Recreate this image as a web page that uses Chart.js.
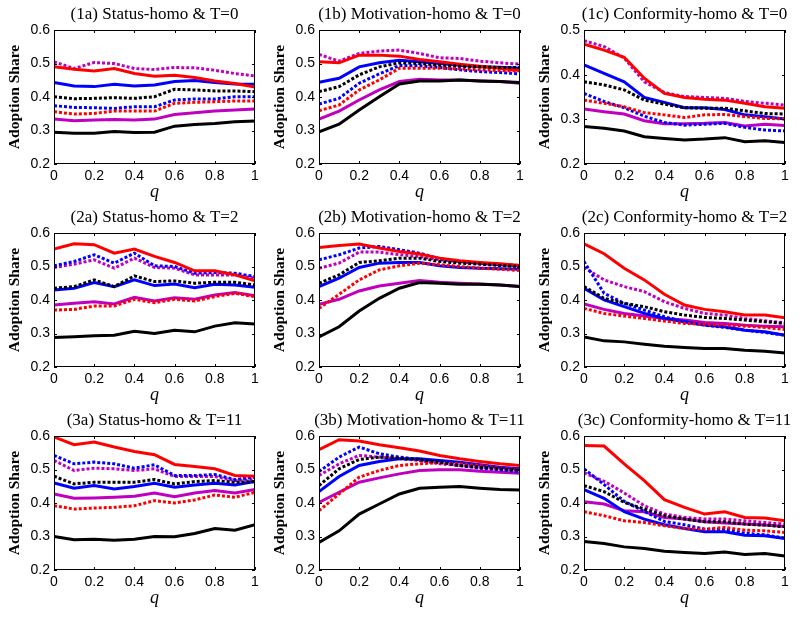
<!DOCTYPE html>
<html>
<head>
<meta charset="utf-8">
<script src="https://cdn.jsdelivr.net/npm/chart.js@4"></script>
<style>
  body { margin: 0; background: #fff; }
  #wrap { position: relative; width: 800px; height: 620px; }
  #wrap canvas { position: absolute; }
</style>
</head>
<body>
<div id="wrap"></div>
<script>
// x axis values (q)
const qValues = [0, 0.1, 0.2, 0.3, 0.4, 0.5, 0.6, 0.7, 0.8, 0.9, 1];

// series order in every panel
const seriesNames = ["black", "black dotted", "red", "red dotted", "blue", "blue dotted", "magenta", "magenta dotted"];
const seriesColors = ["#000000", "#000000", "#ff0000", "#ff0000", "#0000ff", "#0000ff", "#bf00bf", "#bf00bf"];
const seriesDotted = [false, true, false, true, false, true, false, true];

const panelTitles = [
  "(1a) Status-homo & T=0", "(1b) Motivation-homo & T=0", "(1c) Conformity-homo & T=0",
  "(2a) Status-homo & T=2", "(2b) Motivation-homo & T=2", "(2c) Conformity-homo & T=2",
  "(3a) Status-homo & T=11", "(3b) Motivation-homo & T=11", "(3c) Conformity-homo & T=11"
];
const panelYMax = [0.6, 0.6, 0.5, 0.6, 0.6, 0.6, 0.6, 0.6, 0.6];

const panel1a = [
  [0.295, 0.292, 0.292, 0.297, 0.294, 0.295, 0.313, 0.318, 0.321, 0.326, 0.328],
  [0.401, 0.395, 0.396, 0.398, 0.396, 0.401, 0.423, 0.421, 0.418, 0.418, 0.416],
  [0.490, 0.483, 0.478, 0.485, 0.470, 0.462, 0.465, 0.458, 0.448, 0.440, 0.430],
  [0.356, 0.349, 0.351, 0.358, 0.358, 0.358, 0.381, 0.384, 0.386, 0.388, 0.388],
  [0.443, 0.433, 0.431, 0.438, 0.433, 0.436, 0.446, 0.449, 0.443, 0.439, 0.438],
  [0.374, 0.369, 0.368, 0.366, 0.371, 0.371, 0.391, 0.394, 0.394, 0.401, 0.401],
  [0.334, 0.329, 0.331, 0.333, 0.331, 0.334, 0.348, 0.353, 0.358, 0.361, 0.364],
  [0.505, 0.485, 0.503, 0.500, 0.485, 0.482, 0.488, 0.487, 0.480, 0.470, 0.463]
];
const panel1b = [
  [0.296, 0.319, 0.361, 0.401, 0.439, 0.448, 0.448, 0.451, 0.448, 0.446, 0.443],
  [0.416, 0.431, 0.466, 0.490, 0.502, 0.500, 0.495, 0.492, 0.490, 0.488, 0.488],
  [0.505, 0.502, 0.525, 0.525, 0.522, 0.512, 0.505, 0.498, 0.492, 0.486, 0.479],
  [0.359, 0.376, 0.421, 0.451, 0.486, 0.486, 0.486, 0.484, 0.481, 0.479, 0.478],
  [0.444, 0.456, 0.490, 0.502, 0.510, 0.505, 0.500, 0.495, 0.490, 0.489, 0.486],
  [0.379, 0.396, 0.441, 0.469, 0.494, 0.493, 0.488, 0.481, 0.476, 0.473, 0.469],
  [0.334, 0.358, 0.391, 0.421, 0.446, 0.453, 0.451, 0.451, 0.448, 0.446, 0.441],
  [0.527, 0.507, 0.530, 0.537, 0.540, 0.530, 0.517, 0.515, 0.507, 0.502, 0.498]
];
const panel1c = [
  [0.284, 0.280, 0.274, 0.261, 0.257, 0.254, 0.256, 0.259, 0.250, 0.252, 0.248],
  [0.384, 0.377, 0.366, 0.343, 0.334, 0.326, 0.325, 0.325, 0.319, 0.313, 0.312],
  [0.468, 0.455, 0.439, 0.392, 0.358, 0.349, 0.345, 0.343, 0.336, 0.328, 0.325],
  [0.343, 0.336, 0.328, 0.315, 0.310, 0.304, 0.310, 0.311, 0.306, 0.302, 0.301],
  [0.422, 0.403, 0.384, 0.349, 0.338, 0.326, 0.326, 0.322, 0.310, 0.306, 0.301],
  [0.358, 0.340, 0.326, 0.307, 0.293, 0.287, 0.289, 0.291, 0.282, 0.276, 0.274],
  [0.323, 0.317, 0.312, 0.297, 0.290, 0.290, 0.291, 0.293, 0.285, 0.289, 0.286],
  [0.476, 0.463, 0.437, 0.384, 0.360, 0.351, 0.349, 0.347, 0.340, 0.336, 0.332]
];
const panel2a = [
  [0.288, 0.290, 0.293, 0.295, 0.307, 0.300, 0.310, 0.305, 0.322, 0.332, 0.328],
  [0.435, 0.440, 0.460, 0.440, 0.472, 0.455, 0.457, 0.450, 0.453, 0.453, 0.445],
  [0.552, 0.568, 0.565, 0.540, 0.552, 0.530, 0.512, 0.487, 0.487, 0.475, 0.457],
  [0.370, 0.372, 0.382, 0.382, 0.402, 0.392, 0.402, 0.397, 0.410, 0.420, 0.410],
  [0.430, 0.435, 0.452, 0.440, 0.460, 0.443, 0.448, 0.437, 0.447, 0.445, 0.438],
  [0.502, 0.515, 0.535, 0.510, 0.540, 0.502, 0.500, 0.480, 0.482, 0.480, 0.470],
  [0.385, 0.390, 0.395, 0.388, 0.408, 0.397, 0.407, 0.402, 0.415, 0.422, 0.413],
  [0.497, 0.507, 0.520, 0.495, 0.525, 0.497, 0.495, 0.475, 0.475, 0.475, 0.465]
];
const panel2b = [
  [0.290, 0.320, 0.367, 0.405, 0.435, 0.452, 0.450, 0.447, 0.447, 0.445, 0.440],
  [0.450, 0.475, 0.512, 0.517, 0.525, 0.525, 0.515, 0.510, 0.507, 0.503, 0.500],
  [0.557, 0.563, 0.567, 0.555, 0.545, 0.537, 0.525, 0.517, 0.512, 0.508, 0.503],
  [0.375, 0.417, 0.460, 0.490, 0.502, 0.510, 0.505, 0.500, 0.495, 0.492, 0.488],
  [0.440, 0.465, 0.497, 0.510, 0.512, 0.512, 0.502, 0.497, 0.495, 0.493, 0.492],
  [0.520, 0.535, 0.555, 0.560, 0.550, 0.540, 0.523, 0.515, 0.510, 0.505, 0.502],
  [0.387, 0.402, 0.427, 0.442, 0.450, 0.458, 0.453, 0.450, 0.448, 0.445, 0.440],
  [0.495, 0.510, 0.543, 0.543, 0.535, 0.530, 0.520, 0.515, 0.510, 0.507, 0.503]
];
const panel2c = [
  [0.290, 0.278, 0.275, 0.268, 0.262, 0.258, 0.255, 0.255, 0.250, 0.247, 0.242],
  [0.440, 0.405, 0.390, 0.380, 0.365, 0.355, 0.348, 0.345, 0.340, 0.335, 0.330],
  [0.568, 0.538, 0.495, 0.460, 0.417, 0.385, 0.372, 0.365, 0.355, 0.355, 0.347],
  [0.375, 0.360, 0.352, 0.345, 0.337, 0.330, 0.327, 0.325, 0.322, 0.318, 0.312],
  [0.435, 0.400, 0.380, 0.360, 0.345, 0.335, 0.325, 0.320, 0.310, 0.305, 0.295],
  [0.515, 0.420, 0.390, 0.370, 0.350, 0.335, 0.325, 0.318, 0.310, 0.303, 0.295],
  [0.388, 0.372, 0.360, 0.352, 0.345, 0.340, 0.333, 0.330, 0.325, 0.322, 0.320],
  [0.497, 0.460, 0.440, 0.425, 0.395, 0.375, 0.360, 0.355, 0.345, 0.338, 0.332]
];
const panel3a = [
  [0.300, 0.290, 0.292, 0.289, 0.292, 0.300, 0.299, 0.309, 0.324, 0.319, 0.335],
  [0.480, 0.457, 0.462, 0.462, 0.462, 0.470, 0.457, 0.464, 0.467, 0.462, 0.464],
  [0.597, 0.574, 0.582, 0.567, 0.554, 0.544, 0.515, 0.509, 0.502, 0.482, 0.480],
  [0.392, 0.382, 0.385, 0.387, 0.392, 0.407, 0.400, 0.409, 0.424, 0.417, 0.432],
  [0.460, 0.444, 0.452, 0.442, 0.449, 0.459, 0.447, 0.454, 0.459, 0.454, 0.464],
  [0.542, 0.517, 0.522, 0.517, 0.504, 0.514, 0.482, 0.482, 0.485, 0.470, 0.477],
  [0.427, 0.414, 0.415, 0.417, 0.420, 0.430, 0.419, 0.430, 0.437, 0.430, 0.440],
  [0.527, 0.497, 0.504, 0.502, 0.497, 0.502, 0.479, 0.479, 0.479, 0.467, 0.470]
];
const panel3b = [
  [0.282, 0.317, 0.367, 0.397, 0.427, 0.444, 0.447, 0.449, 0.444, 0.440, 0.439],
  [0.452, 0.502, 0.530, 0.537, 0.534, 0.529, 0.522, 0.512, 0.507, 0.502, 0.497],
  [0.559, 0.589, 0.585, 0.574, 0.565, 0.555, 0.542, 0.532, 0.524, 0.517, 0.512],
  [0.377, 0.427, 0.477, 0.497, 0.512, 0.517, 0.520, 0.517, 0.512, 0.504, 0.500],
  [0.434, 0.479, 0.512, 0.524, 0.532, 0.532, 0.527, 0.522, 0.514, 0.507, 0.502],
  [0.494, 0.537, 0.567, 0.547, 0.537, 0.530, 0.522, 0.512, 0.504, 0.499, 0.492],
  [0.402, 0.432, 0.462, 0.475, 0.487, 0.497, 0.499, 0.499, 0.495, 0.492, 0.489],
  [0.482, 0.517, 0.542, 0.537, 0.532, 0.527, 0.517, 0.512, 0.507, 0.502, 0.497]
];
const panel3c = [
  [0.285, 0.279, 0.269, 0.264, 0.256, 0.252, 0.249, 0.254, 0.246, 0.249, 0.242],
  [0.452, 0.434, 0.402, 0.382, 0.362, 0.352, 0.344, 0.344, 0.337, 0.334, 0.329],
  [0.572, 0.570, 0.517, 0.467, 0.410, 0.387, 0.367, 0.374, 0.357, 0.355, 0.347],
  [0.374, 0.362, 0.347, 0.342, 0.332, 0.324, 0.322, 0.327, 0.319, 0.317, 0.312],
  [0.440, 0.414, 0.374, 0.352, 0.335, 0.324, 0.314, 0.314, 0.304, 0.302, 0.294],
  [0.502, 0.455, 0.405, 0.375, 0.345, 0.335, 0.322, 0.322, 0.310, 0.305, 0.295],
  [0.404, 0.397, 0.377, 0.374, 0.357, 0.352, 0.344, 0.340, 0.337, 0.334, 0.330],
  [0.490, 0.465, 0.430, 0.392, 0.367, 0.357, 0.352, 0.352, 0.347, 0.342, 0.337]
];

const panels = [panel1a, panel1b, panel1c, panel2a, panel2b, panel2c, panel3a, panel3b, panel3c];

const PANEL_W = 265;
const PANEL_H = 203;

// frame, inward ticks, title and axis labels (MATLAB look)
const frameAndTextPlugin = {
  id: "frameAndText",
  afterDraw: (chart) => {
    const ctx = chart.ctx;
    const { left, right, top, bottom } = chart.chartArea;
    const xs = chart.scales.x;
    const ys = chart.scales.y;

    ctx.save();
    ctx.strokeStyle = "#000";
    ctx.lineWidth = 1;
    ctx.strokeRect(left + 0.5, top + 0.5, right - left - 1, bottom - top - 1);

    ctx.beginPath();
    xs.ticks.forEach((t) => {
      const px = Math.round(xs.getPixelForValue(t.value)) + 0.5;
      ctx.moveTo(px, bottom);
      ctx.lineTo(px, bottom - 3);
      ctx.moveTo(px, top);
      ctx.lineTo(px, top + 3);
    });
    ys.ticks.forEach((t) => {
      const py = Math.round(ys.getPixelForValue(t.value)) + 0.5;
      ctx.moveTo(left, py);
      ctx.lineTo(left + 3, py);
      ctx.moveTo(right, py);
      ctx.lineTo(right - 3, py);
    });
    ctx.stroke();

    ctx.fillStyle = "#000";
    ctx.textAlign = "center";
    ctx.textBaseline = "middle";

    ctx.font = "17px 'Liberation Serif'";
    ctx.fillText(chart.options.panelTitle, (left + right) / 2, 15);

    ctx.font = "italic 18px 'Liberation Serif'";
    ctx.fillText("q", (left + right) / 2, 192);

    ctx.translate(15, (top + bottom) / 2);
    ctx.rotate(-Math.PI / 2);
    ctx.font = "bold 15.5px 'Liberation Serif'";
    ctx.fillText("Adoption Share", 0, 0);
    ctx.restore();
  },
};

const wrap = document.getElementById("wrap");

// "0", "0.2", ..., "1" like MATLAB
const tickLabel = (value) => String(Number(value.toFixed(1)));

panels.forEach((rows, idx) => {
  const row = Math.floor(idx / 3);
  const col = idx % 3;
  const canvas = document.createElement("canvas");
  canvas.width = PANEL_W;
  canvas.height = PANEL_H;
  canvas.style.left = col * PANEL_W + "px";
  canvas.style.top = row * PANEL_H + "px";
  wrap.appendChild(canvas);

  const datasets = rows.map((vals, s) => ({
    label: seriesNames[s],
    data: qValues.map((q, i) => ({ x: q, y: vals[i] })),
    borderColor: seriesColors[s],
    borderWidth: 3,
    borderDash: seriesDotted[s] ? [3, 2] : [],
    borderCapStyle: "butt",
    pointRadius: 0,
    tension: 0,
    fill: false,
  }));

  const tickFont = { family: "'Liberation Sans', Arial", size: 14 };

  new Chart(canvas, {
    type: "line",
    data: { datasets },
    options: {
      panelTitle: panelTitles[idx],
      responsive: false,
      animation: false,
      layout: { padding: { top: 30, right: 10, left: 0, bottom: 0 } },
      plugins: {
        legend: { display: false },
        tooltip: { enabled: false },
      },
      scales: {
        x: {
          type: "linear",
          min: 0,
          max: 1,
          ticks: { stepSize: 0.2, color: "#000", font: tickFont, padding: 4, maxRotation: 0, callback: tickLabel },
          grid: { display: false, drawTicks: false },
          border: { display: false },
          afterFit: (scale) => { scale.height = 39; },
        },
        y: {
          min: 0.2,
          max: panelYMax[idx],
          ticks: { stepSize: 0.1, color: "#000", font: tickFont, padding: 4, callback: tickLabel },
          grid: { display: false, drawTicks: false },
          border: { display: false },
          afterFit: (scale) => { scale.width = 54; },
        },
      },
    },
    plugins: [frameAndTextPlugin],
  });
});
</script>
</body>
</html>
